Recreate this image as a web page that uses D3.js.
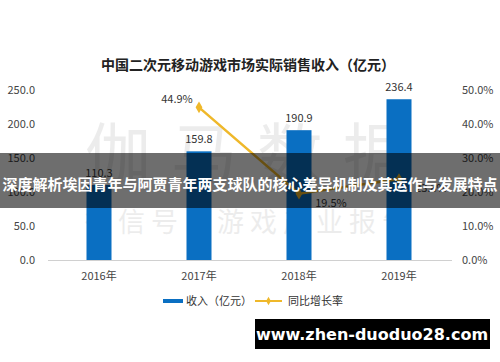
<!DOCTYPE html>
<html>
<head>
<meta charset="utf-8">
<title>中国二次元移动游戏市场实际销售收入</title>
<script src="https://cdn.jsdelivr.net/npm/d3@7"></script>
<style>
  body { margin: 0; background: #fff; }
  svg { display: block; font-family: "Noto Sans CJK SC", "Noto Sans", sans-serif; }
</style>
</head>
<body>
<div id="chart"></div>
<script>
var years = ["2016年", "2017年", "2018年", "2019年"];
var revenue = [110.3, 159.8, 190.9, 236.4];
var growth = [null, 44.9, 19.5, 23.8];
var leftTicks = [0, 50, 100, 150, 200, 250];
var rightTicks = [0, 10, 20, 30, 40, 50];

var w = 500, h = 362;
var svg = d3.select("#chart").append("svg").attr("width", w).attr("height", h);

var x = d3.scaleBand().domain(years).range([49, 449]).paddingInner(0.75).paddingOuter(0.375);
var yL = d3.scaleLinear().domain([0, 250]).range([260, 90]);
var yR = d3.scaleLinear().domain([0, 50]).range([260, 90]);

// faint watermark
var wm = svg.append("g").attr("fill", "#000").attr("opacity", 0.07);
wm.selectAll("text.big").data(["伽", "马", "数", "据"]).enter().append("text")
  .attr("x", function(d, i) { return 118 + i * 86; })
  .attr("y", 178).attr("text-anchor", "middle")
  .attr("font-size", 66).text(function(d) { return d; });
wm.append("text").attr("x", 250).attr("y", 232).attr("text-anchor", "middle")
  .attr("font-size", 27).attr("letter-spacing", 6).text("微信号：游戏产业报告");

// title
svg.append("text").attr("x", 248).attr("y", 70).attr("text-anchor", "middle")
  .attr("font-size", 14).attr("font-weight", "bold").attr("fill", "#222")
  .text("中国二次元移动游戏市场实际销售收入（亿元）");

// left axis labels
svg.append("g").selectAll("text").data(leftTicks).enter().append("text")
  .attr("x", 35).attr("y", function(d) { return yL(d) + 4; })
  .attr("text-anchor", "end").attr("font-size", 11).attr("fill", "#444")
  .text(function(d) { return d3.format(".1f")(d); });

// right axis labels
svg.append("g").selectAll("text").data(rightTicks).enter().append("text")
  .attr("x", 462).attr("y", function(d) { return yR(d) + 4; })
  .attr("text-anchor", "start").attr("font-size", 11).attr("fill", "#444")
  .text(function(d) { return d3.format(".1f")(d) + "%"; });

// baseline
svg.append("line").attr("x1", 48).attr("x2", 452).attr("y1", yL(0) + 0.5).attr("y2", yL(0) + 0.5)
  .attr("stroke", "#d0d0d0").attr("stroke-width", 1);

// bars
svg.selectAll("rect.bar").data(revenue).enter().append("rect").attr("class", "bar")
  .attr("x", function(d, i) { return x(years[i]); })
  .attr("y", function(d) { return yL(d); })
  .attr("width", x.bandwidth())
  .attr("height", function(d) { return yL(0) - yL(d); })
  .attr("fill", "#0a6fc2");

svg.selectAll("text.val").data(revenue).enter().append("text").attr("class", "val")
  .attr("x", function(d, i) { return x(years[i]) + x.bandwidth() / 2; })
  .attr("y", function(d) { return yL(d) - 8; })
  .attr("text-anchor", "middle").attr("font-size", 11).attr("fill", "#333")
  .text(function(d) { return d3.format(".1f")(d); });

// x labels
svg.selectAll("text.cat").data(years).enter().append("text").attr("class", "cat")
  .attr("x", function(d) { return x(d) + x.bandwidth() / 2; })
  .attr("y", 280).attr("text-anchor", "middle").attr("font-size", 11).attr("fill", "#444")
  .text(function(d) { return d; });

// growth line
var pts = growth.map(function(g, i) { return { y: years[i], g: g }; }).filter(function(d) { return d.g !== null; });
var line = d3.line()
  .x(function(d) { return x(d.y) + x.bandwidth() / 2; })
  .y(function(d) { return yR(d.g); });
svg.append("path").datum(pts).attr("d", line).attr("fill", "none")
  .attr("stroke", "#efb82a").attr("stroke-width", 2.5);
svg.selectAll("path.mk").data(pts).enter().append("path").attr("class", "mk")
  .attr("d", d3.symbol().type(d3.symbolDiamond).size(40))
  .attr("transform", function(d) { return "translate(" + (x(d.y) + x.bandwidth() / 2) + "," + yR(d.g) + ")"; })
  .attr("fill", "#efb82a");
svg.selectAll("text.pct").data(pts).enter().append("text").attr("class", "pct")
  .attr("x", function(d, i) { return x(d.y) + x.bandwidth() / 2 + (i === 0 ? -22 : 32); })
  .attr("y", function(d, i) { return yR(d.g) + (i === 0 ? -4 : 13); })
  .attr("text-anchor", "middle").attr("font-size", 11).attr("fill", "#333")
  .text(function(d) { return d3.format(".1f")(d.g) + "%"; });

// legend
var lg = svg.append("g");
lg.append("rect").attr("x", 163).attr("y", 299).attr("width", 20).attr("height", 4).attr("fill", "#0a6fc2");
lg.append("text").attr("x", 186).attr("y", 305).attr("font-size", 11).attr("fill", "#333").text("收入（亿元）");
lg.append("line").attr("x1", 255).attr("x2", 282).attr("y1", 301).attr("y2", 301)
  .attr("stroke", "#efb82a").attr("stroke-width", 2);
lg.append("path").attr("d", d3.symbol().type(d3.symbolDiamond).size(20))
  .attr("transform", "translate(268.5,301)").attr("fill", "#efb82a");
lg.append("text").attr("x", 288).attr("y", 305).attr("font-size", 11).attr("fill", "#333").text("同比增长率");

// overlay banner
svg.append("rect").attr("x", 0).attr("y", 153).attr("width", w).attr("height", 55)
  .attr("fill", "#000").attr("opacity", 0.57);
svg.append("text").attr("x", 250).attr("y", 190).attr("text-anchor", "middle")
  .attr("font-size", 15).attr("font-weight", "bold").attr("fill", "#fff")
  .text("深度解析埃因青年与阿贾青年两支球队的核心差异机制及其运作与发展特点");

// site tag
svg.append("rect").attr("x", 255).attr("y", 319).attr("width", 235).attr("height", 30).attr("fill", "#000");
svg.append("text").attr("x", 372).attr("y", 340).attr("text-anchor", "middle")
  .attr("font-family", "DejaVu Sans, sans-serif").attr("font-size", 16).attr("font-weight", "bold")
  .attr("fill", "#fff").text("www.zhen-duoduo28.com");
</script>
</body>
</html>
